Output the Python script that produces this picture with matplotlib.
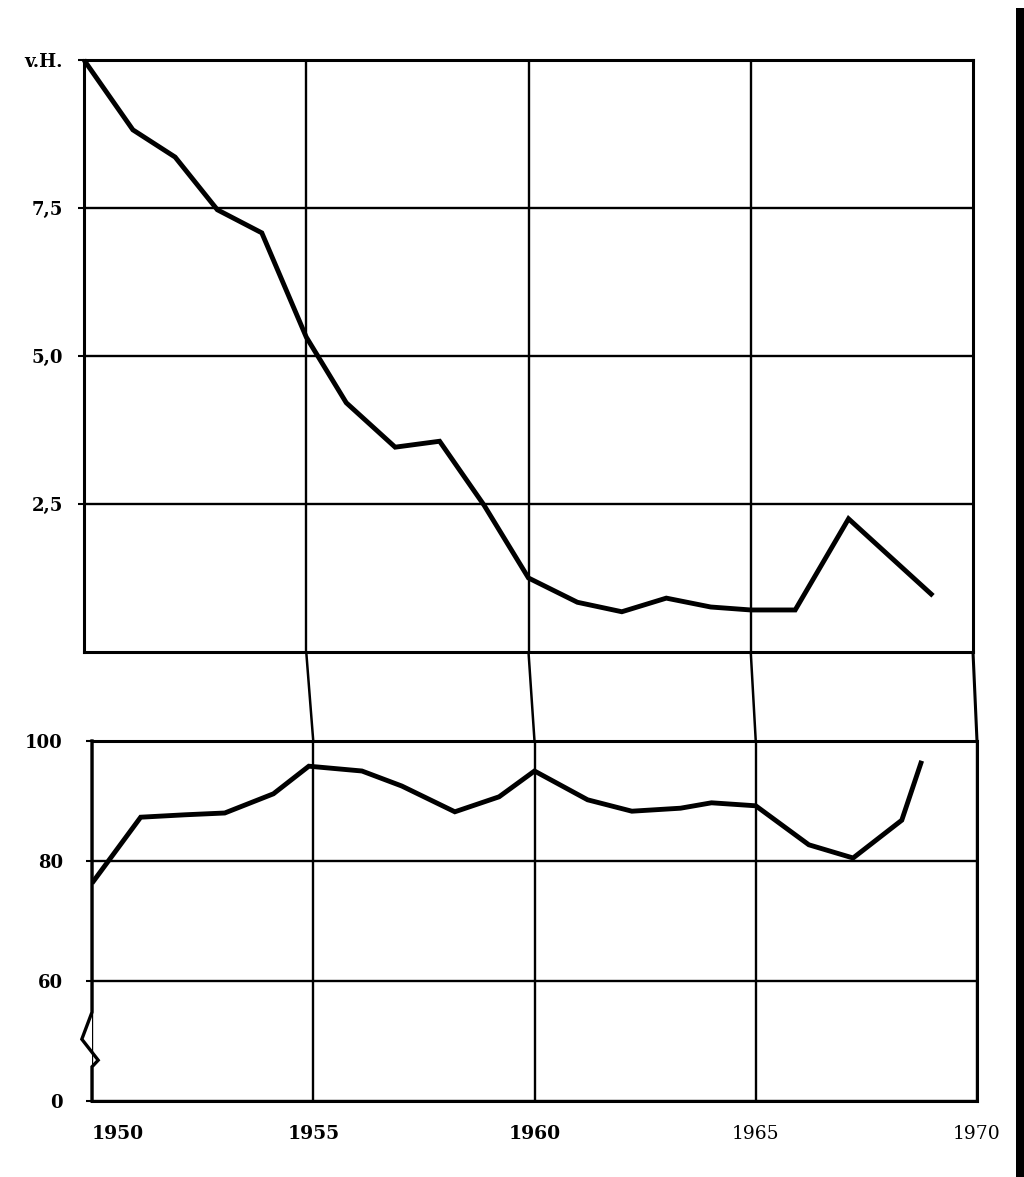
import matplotlib.pyplot as plt
from matplotlib.patches import ConnectionPatch, Rectangle

# upper panel: share in v.H.
top_years = [1950, 1951.1, 1952.05, 1953, 1954, 1955, 1955.9, 1957, 1958, 1959,
             1960, 1961.1, 1962.1, 1963.1, 1964.1, 1965, 1966, 1967.2, 1969.1]
top_vals = [10.0, 8.82, 8.36, 7.47, 7.08, 5.32, 4.21, 3.46, 3.56, 2.48,
            1.25, 0.84, 0.68, 0.91, 0.76, 0.71, 0.71, 2.25, 0.95]
top_ticks = [2.5, 5.0, 7.5, 10.0]
top_labels = ["2,5", "5,0", "7,5", "v.H."]

# lower panel (broken axis: 0 drawn where 40 would be)
bot_years = [1950.0, 1951.1, 1952.1, 1953.0, 1954.1, 1954.9, 1956.1, 1957.0, 1958.2, 1959.2,
             1960.0, 1961.2, 1962.2, 1963.3, 1964.0, 1965.0, 1966.2, 1967.2, 1968.3, 1968.75]
bot_vals = [76.3, 87.3, 87.7, 88.0, 91.2, 95.8, 95.0, 92.5, 88.2, 90.7,
            95.0, 90.2, 88.3, 88.8, 89.7, 89.2, 82.7, 80.5, 86.8, 96.7]
bot_ticks = [40, 60, 80, 100]
bot_labels = ["0", "60", "80", "100"]

x_ticks = [1950, 1955, 1960, 1965, 1970]
x_labels = ["1950", "1955", "1960", "1965", "1970"]

W, H = 1024, 1177
fig = plt.figure(figsize=(W / 100, H / 100), dpi=100)
fig.patch.set_facecolor("white")

def px_axes(left, right, top, bottom):
    return fig.add_axes([left / W, 1 - bottom / H, (right - left) / W, (bottom - top) / H])

ax1 = px_axes(84, 973, 60, 652)
ax2 = px_axes(92, 977, 741, 1101)

serif = "DejaVu Serif"
for ax in (ax1, ax2):
    ax.set_xlim(1950, 1970)
    ax.set_xticks(x_ticks[1:-1])
    ax.grid(True, color="black", linewidth=1.7)
    for s in ax.spines.values():
        s.set_linewidth(2.2)
    ax.tick_params(axis="x", length=0)
    ax.tick_params(axis="y", length=4, width=1.5, direction="out")

# top panel
ax1.set_ylim(0, 10)
ax1.set_yticks(top_ticks)
ax1.set_yticklabels(top_labels, fontfamily=serif, fontweight="bold", fontsize=13)
ax1.tick_params(axis="y", pad=11)
ax1.set_xticklabels([])
ax1.plot(top_years, top_vals, color="black", linewidth=3.5,
         solid_joinstyle="miter", solid_capstyle="butt", clip_on=False)

# bottom panel
ax2.set_ylim(40, 100)
ax2.set_yticks(bot_ticks)
ax2.set_yticklabels(bot_labels, fontfamily=serif, fontweight="bold", fontsize=13)
ax2.tick_params(axis="y", pad=17)
ax2.plot(bot_years, bot_vals, color="black", linewidth=3.5,
         solid_joinstyle="miter", solid_capstyle="butt")

ax2.set_xticks(x_ticks)
ax2.set_xticklabels(x_labels)
ax2.tick_params(axis="x", pad=17)
for lab in ax2.get_xticklabels():
    t = lab.get_text()
    lab.set_fontfamily(serif)
    if t in ("1965", "1970"):
        lab.set_fontsize(13.5)
    else:
        lab.set_fontweight("bold")
        lab.set_fontsize(13.5)
    if t == "1950":
        lab.set_horizontalalignment("left")

# broken left spine with zigzag
ax2.spines["left"].set_visible(False)
brk_x = [1950, 1950, 1949.77, 1950.14, 1950, 1950]
brk_y = [100, 54.8, 50.3, 46.8, 45.7, 40]
ax2.plot(brk_x, brk_y, color="black", linewidth=2.4, clip_on=False,
         solid_joinstyle="miter")

# vertical lines continue through the gap between the panels
for yr in x_ticks[1:]:
    con = ConnectionPatch(xyA=(yr, 0), coordsA=ax1.transData,
                          xyB=(yr, 100), coordsB=ax2.transData,
                          color="black", linewidth=1.8 if yr < 1970 else 2.2)
    fig.add_artist(con)

# dark scan edge on the right
fig.add_artist(Rectangle((1016 / W, 0), 8 / W, 1 - 8 / H, transform=fig.transFigure,
                         color="black", linewidth=0))

plt.savefig("out.png", dpi=100)
